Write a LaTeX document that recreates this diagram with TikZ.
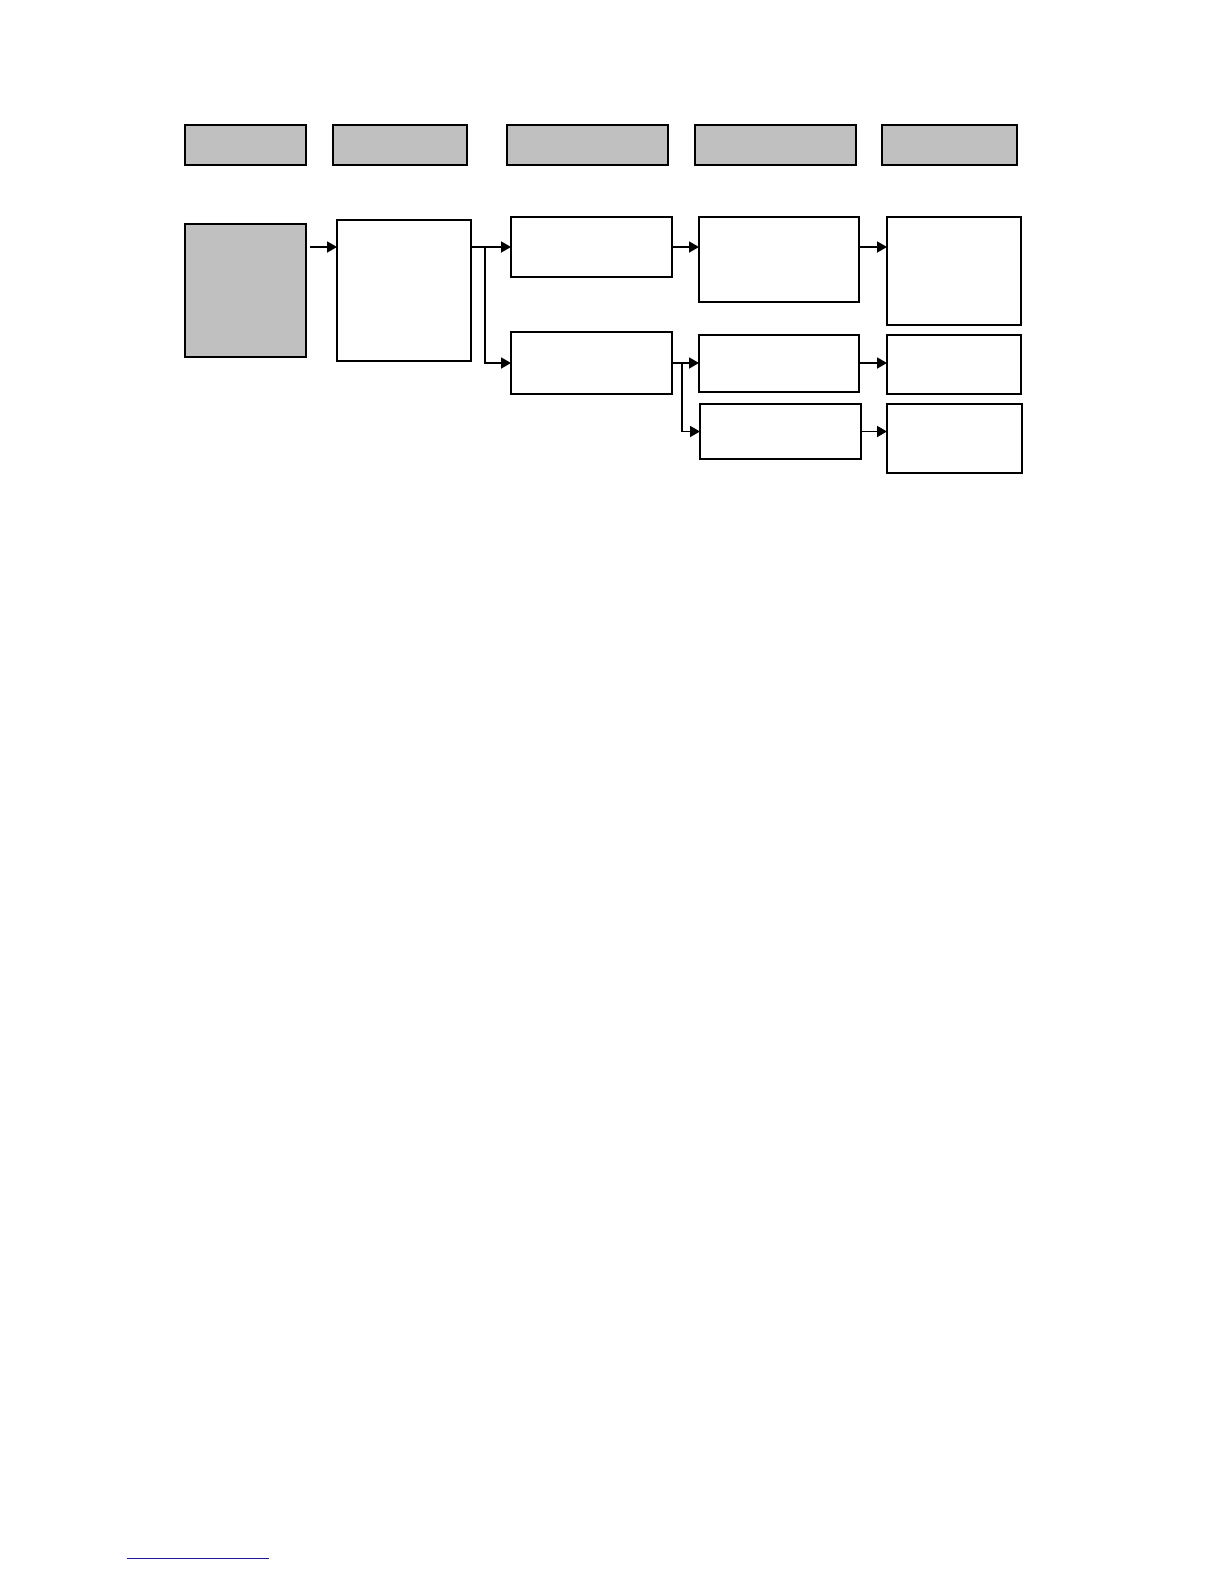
\documentclass[tikz,border=0pt]{standalone}
\usetikzlibrary{arrows.meta,calc}
\definecolor{boxgray}{HTML}{C0C0C0}
\definecolor{footblue}{HTML}{1A1A9A}
\begin{document}
\begin{tikzpicture}[x=0.5pt,y=-0.5pt,
  box/.style={draw=black,line width=1.1pt,fill=white,inner sep=0pt,outer sep=0pt},
  graybox/.style={box,fill=boxgray},
  arr/.style={draw=black,line width=0.9pt,-{Triangle[length=5pt,width=5.5pt]}}]
\fill[white] (0,0) rectangle (1224,1584);
\useasboundingbox (0,0) rectangle (1224,1584);
% header boxes
\node[graybox,minimum width=60.5pt,minimum height=20pt] (H1) at (245.5,145) {};
\node[graybox,minimum width=67pt,minimum height=20pt] (H2) at (400,145) {};
\node[graybox,minimum width=80.5pt,minimum height=20pt] (H3) at (587.5,145) {};
\node[graybox,minimum width=80.5pt,minimum height=20pt] (H4) at (775.5,145) {};
\node[graybox,minimum width=67.5pt,minimum height=20pt] (H5) at (949.5,145) {};
% flow boxes
\node[graybox,minimum width=60.5pt,minimum height=66.5pt] (A) at (245.5,290.5) {};
\node[box,minimum width=67pt,minimum height=70.5pt] (B) at (404,290.5) {};
\node[box,minimum width=80.5pt,minimum height=30pt] (C1) at (591.5,247) {};
\node[box,minimum width=80.5pt,minimum height=31pt] (C2) at (591.5,363) {};
\node[box,minimum width=80pt,minimum height=42.5pt] (D1) at (779,259.5) {};
\node[box,minimum width=80pt,minimum height=28.5pt] (D2) at (779,363.5) {};
\node[box,minimum width=80.5pt,minimum height=27.5pt] (D3) at (780.5,431.5) {};
\node[box,minimum width=67pt,minimum height=54pt] (E1) at (954,271) {};
\node[box,minimum width=67pt,minimum height=29.5pt] (E2) at (954,364.5) {};
\node[box,minimum width=67.5pt,minimum height=34.5pt] (E3) at (954.5,438.5) {};
% connectors
\draw[arr] ([xshift=2pt]A.east |- C1.west) -- (B.west |- C1.west);
\draw[arr] (B.east |- C1.west) -- (C1.west);
\coordinate (b1) at ($(B.east |- C1.west)+(14,0)$);
\draw[arr] (b1) |- (C2.west);
\draw[arr] (C1.east) -- (D1.west |- C1.east);
\draw[arr] (D1.east |- C1.east) -- (E1.west |- C1.east);
\draw[arr] (C2.east) -- (D2.west |- C2.east);
\coordinate (c2b) at ($(C2.east)+(10,0)$);
\draw[arr] (c2b) |- (D3.west);
\draw[arr] (D2.east |- C2.east) -- (E2.west |- C2.east);
\draw[arr] (D3.east) -- (E3.west |- D3.east);
% footnote rule
\draw[draw=footblue,line width=0.8pt] (127,1558.5) -- (269,1558.5);
\end{tikzpicture}
\end{document}
